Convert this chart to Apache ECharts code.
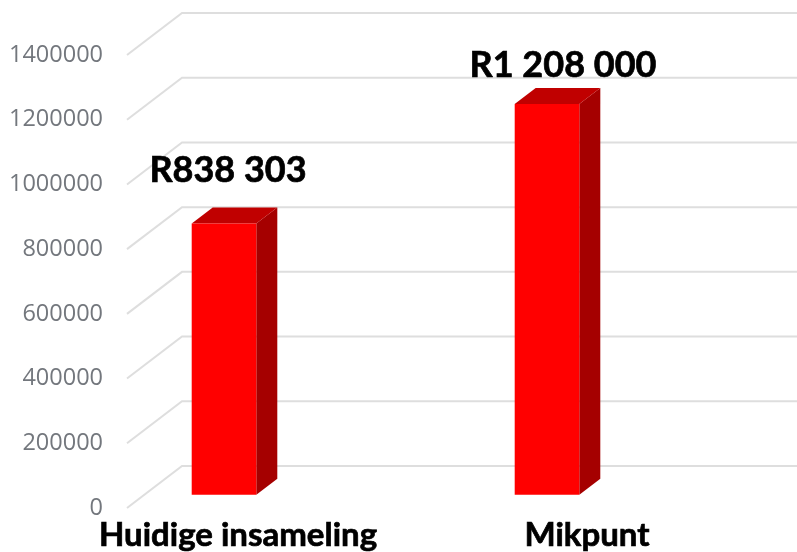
<!DOCTYPE html>
<html>
<head>
<meta charset="utf-8">
<style>
  html, body { margin: 0; padding: 0; background: #fff; }
  #main { width: 797px; height: 552px; }
</style>
<script src="https://cdn.jsdelivr.net/npm/echarts@6/dist/echarts.min.js"></script>
</head>
<body>
<div id="main"></div>
<script>
var categories = ['Huidige insameling', 'Mikpunt'];
var values = [838303, 1208000];
var valueLabels = ['R838 303', 'R1 208 000'];
var ticks = [0, 200000, 400000, 600000, 800000, 1000000, 1200000, 1400000];

// 3d look, in pixels
var wallDepth = [55, -42];
var barDepth = [21, -16];
// the labels do not sit centred on the bars in the picture
var labelNudge = [[4, -53], [16, -39]];

var myChart = echarts.init(document.getElementById('main'));

function renderWall(params, api) {
  var a = api.coord([0, api.value(0)]);
  var right = api.coord([1, api.value(0)])[0];
  var b = [a[0] + wallDepth[0], a[1] + wallDepth[1]];
  return {
    type: 'polyline',
    shape: { points: [a, b, [right, b[1]]] },
    style: { fill: 'none', stroke: '#dedede', lineWidth: 2 }
  };
}

function renderBar(params, api) {
  var top = api.coord([api.value(0), api.value(1)]);
  var bottom = api.coord([api.value(0), 0]);
  var w = api.size([1, 0])[0] * 0.2;
  var l = top[0] - w / 2, r = top[0] + w / 2;
  var dx = barDepth[0], dy = barDepth[1];
  var nudge = labelNudge[params.dataIndex];
  return {
    type: 'group',
    children: [
      {
        type: 'polygon',
        shape: { points: [[r, top[1]], [r + dx, top[1] + dy], [r + dx, bottom[1] + dy], [r, bottom[1]]] },
        style: { fill: '#a50000' }
      },
      {
        type: 'polygon',
        shape: { points: [[l, top[1]], [l + dx, top[1] + dy], [r + dx, top[1] + dy], [r, top[1]]] },
        style: { fill: '#c00000' }
      },
      {
        type: 'rect',
        shape: { x: l, y: top[1], width: w, height: bottom[1] - top[1] },
        style: { fill: '#ff0000' }
      },
      {
        type: 'text',
        style: {
          x: top[0] + nudge[0],
          y: top[1] + nudge[1],
          text: valueLabels[params.dataIndex],
          font: 'bold 36px Lato',
          fill: '#000',
          stroke: '#000',
          lineWidth: 0.7,
          align: 'center',
          verticalAlign: 'middle'
        }
      }
    ]
  };
}

var catStyle = { fontFamily: 'Lato', fontWeight: 'bold', fontSize: 33, color: '#000', textBorderColor: '#000', textBorderWidth: 0.7 };

myChart.setOption({
  animation: false,
  backgroundColor: '#fff',
  grid: [
    { left: 127, top: 55, width: 670, height: 453 },
    { left: 62.5, top: 42, width: 646, height: 453 }
  ],
  xAxis: [
    { type: 'value', gridIndex: 0, min: 0, max: 1, show: false },
    {
      type: 'category',
      gridIndex: 1,
      data: categories,
      axisLine: { show: false },
      axisTick: { show: false },
      axisLabel: {
        margin: 24,
        formatter: function (name, i) {
          return (i === 0 ? '{a|' : '{b|') + name + '}';
        },
        rich: {
          a: Object.assign({ padding: [0, 0, 0, 28] }, catStyle),
          b: Object.assign({ padding: [0, 0, 0, 80] }, catStyle)
        }
      }
    }
  ],
  yAxis: [
    {
      type: 'value',
      gridIndex: 0,
      min: 0,
      max: 1400000,
      interval: 200000,
      axisLine: { show: false },
      axisTick: { show: false },
      splitLine: { show: false },
      axisLabel: {
        margin: 24,
        color: '#73777d',
        fontFamily: 'Open Sans',
        fontSize: 23.5,
        showMinLabel: true,
        showMaxLabel: true,
        formatter: function (v) { return String(v); }
      }
    },
    { type: 'value', gridIndex: 1, min: 0, max: 1400000, show: false }
  ],
  series: [
    {
      type: 'custom',
      xAxisIndex: 0,
      yAxisIndex: 0,
      renderItem: renderWall,
      encode: { y: 0 },
      data: ticks.map(function (t) { return [t]; }),
      z: 1
    },
    {
      type: 'custom',
      xAxisIndex: 1,
      yAxisIndex: 1,
      renderItem: renderBar,
      encode: { x: 0, y: 1 },
      data: values.map(function (v, i) { return [i, v]; }),
      z: 2
    }
  ]
});
</script>
</body>
</html>
